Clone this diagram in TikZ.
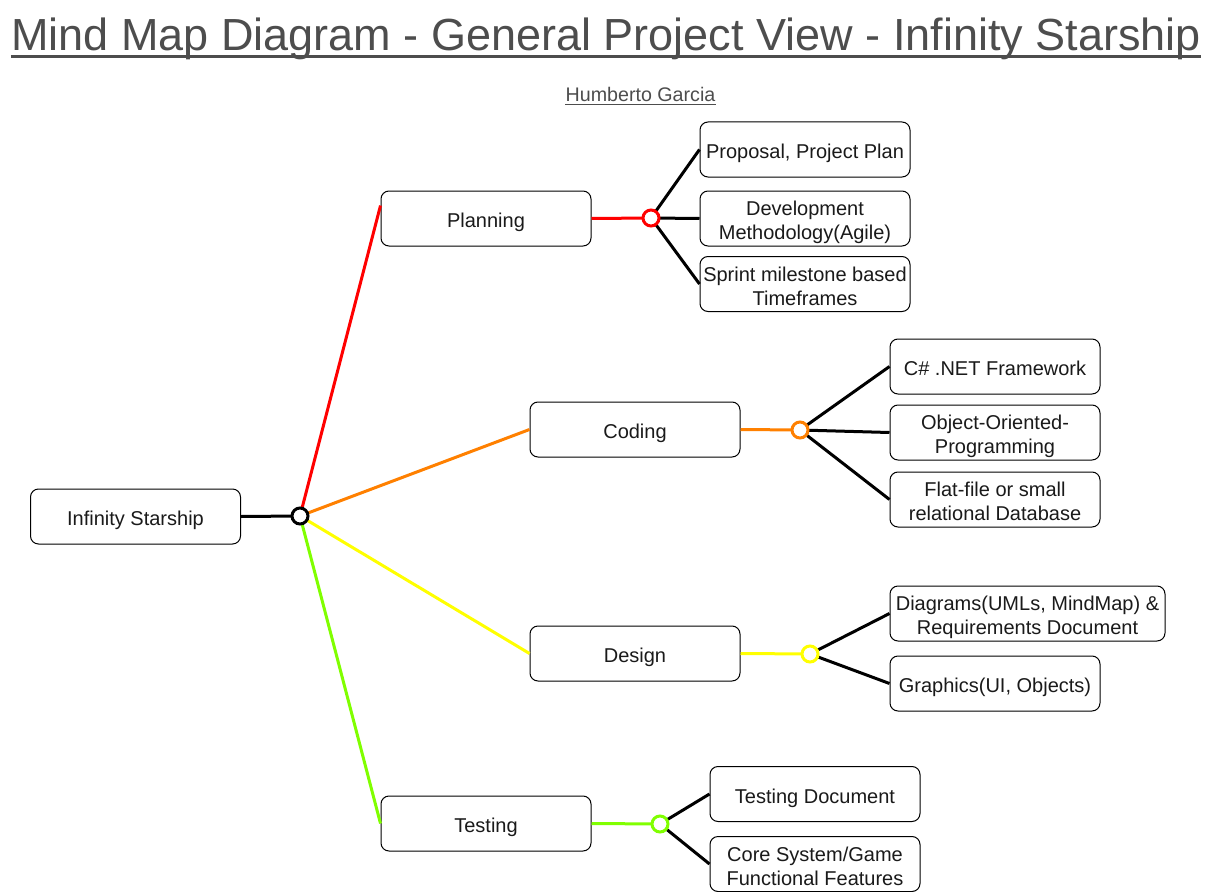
\documentclass[tikz,border=0pt]{standalone}
\usepackage{fontspec}
\setmainfont{Liberation Sans}
\definecolor{cred}{HTML}{FF0000}
\definecolor{corange}{HTML}{FF8000}
\definecolor{cyellow}{HTML}{FFFF00}
\definecolor{cgreen}{HTML}{80FF00}
\definecolor{cgray}{HTML}{4D4D4D}
\definecolor{ctext}{HTML}{1A1A1A}
\newcommand\bxa{\rule{0pt}{17.2pt}}
\newcommand\bxd{\rule[-3.5pt]{0pt}{0pt}}
\begin{document}
\begin{tikzpicture}[x=0.75pt,y=-0.75pt,
  box/.style={draw=black, line width=0.75pt, rounded corners=6pt, fill=white,
    minimum width=157.5pt, minimum height=41.25pt, align=center, inner xsep=1pt, inner ysep=0pt,
    font=\fontsize{15}{18}\selectfont, text=ctext},
  hubc/.style={circle, draw, line width=2.25pt, fill=white, minimum size=12pt, inner sep=0pt},
  conn/.style={line width=2.25pt},
]
\useasboundingbox (0,0) rectangle (1211,892);

% titles
\node[anchor=base, inner sep=0pt, text=cgray, font=\fontsize{33.75}{40}\selectfont] (title) at (606,51) {Mind Map Diagram - General Project View - Infinity Starship};
\draw[cgray, line width=2.25pt] ([yshift=-4pt]title.base west) -- ([yshift=-4pt]title.base east);
\node[anchor=base, inner sep=0pt, text=cgray, font=\fontsize{14.75}{17}\selectfont] (author) at (640.5,102) {Humberto Garcia};
\draw[cgray, line width=0.75pt] ([yshift=-2pt]author.base west) -- ([yshift=-2pt]author.base east);

% hub coordinates
\coordinate (h0) at (300,516);
\coordinate (h1) at (651,218);
\coordinate (h2) at (800,430);
\coordinate (h3) at (810,654);
\coordinate (h4) at (660,824);

% boxes
\node[box] (root) at (135.5,516.5) {\bxa Infinity Starship\bxd};
\node[box] (plan) at (486,218.5) {\bxa Planning\bxd};
\node[box] (code) at (635,429.5) {\bxa Coding\bxd};
\node[box] (design) at (635,653.5) {\bxa Design\bxd};
\node[box] (test) at (486,823.5) {\bxa Testing\bxd};

\node[box] (p1) at (805,149.5) {\bxa Proposal, Project Plan\bxd};
\node[box] (p2) at (805,218.5) {\bxa Development\\Methodology(Agile)\bxd};
\node[box] (p3) at (805,284) {\bxa Sprint milestone based\\Timeframes\bxd};

\node[box] (c1) at (995,366.5) {\bxa C\# .NET Framework\bxd};
\node[box] (c2) at (995,432.5) {\bxa Object-Oriented-\\Programming\bxd};
\node[box] (c3) at (995,499.5) {\bxa Flat-file or small\\relational Database\bxd};

\node[box, minimum width=206.25pt] (d1) at (1027.5,613.5) {\bxa Diagrams(UMLs, MindMap) \&\\Requirements Document\bxd};
\node[box] (d2) at (995,683.5) {\bxa Graphics(UI, Objects)\bxd};

\node[box] (t1) at (815,794) {\bxa Testing Document\bxd};
\node[box] (t2) at (815,864) {\bxa Core System/Game\\Functional Features\bxd};

% connectors
\draw[conn, black] (root.east) -- (h0);
\draw[conn, cred] (h0) -- (plan.173);
\draw[conn, corange] (h0) -- (code.west);
\draw[conn, cyellow] (h0) -- (design.west);
\draw[conn, cgreen] (h0) -- (test.west);

\draw[conn, cred] (plan.east) -- (h1);
\draw[conn, black] (h1) -- (p1.west);
\draw[conn, black] (h1) -- (p2.west);
\draw[conn, black] (h1) -- (p3.west);

\draw[conn, corange] (code.east) -- (h2);
\draw[conn, black] (h2) -- (c1.west);
\draw[conn, black] (h2) -- (c2.west);
\draw[conn, black] (h2) -- (c3.west);

\draw[conn, cyellow] (design.east) -- (h3);
\draw[conn, black] (h3) -- (d1.west);
\draw[conn, black] (h3) -- (d2.west);

\draw[conn, cgreen] (test.east) -- (h4);
\draw[conn, black] (h4) -- (t1.west);
\draw[conn, black] (h4) -- (t2.west);

% hub circles
\node[hubc, draw=black] (n0) at (h0) {};
\node[hubc, draw=cred] (n1) at (h1) {};
\node[hubc, draw=corange] (n2) at (h2) {};
\node[hubc, draw=cyellow] (n3) at (h3) {};
\node[hubc, draw=cgreen] (n4) at (h4) {};
\end{tikzpicture}
\end{document}
